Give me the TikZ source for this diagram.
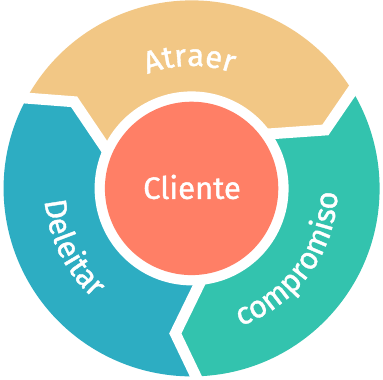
\documentclass[tikz,border=0pt]{standalone}
\usepackage{fontspec}
\setmainfont{Fira Sans}
\newfontfamily\wheelfam[FakeBold=1.2]{Fira Sans}
\usetikzlibrary{decorations.text,calc}
\definecolor{atraercol}{HTML}{F2C785}
\definecolor{deleitarcol}{HTML}{2DADC2}
\definecolor{comprocol}{HTML}{33C3AE}
\definecolor{clientecol}{HTML}{FF7F66}
\newcommand\wfont{\wheelfam\fontsize{31}{32}\selectfont}
\tikzset{
  gapline/.style={draw=white, line width=11pt},
  ringtext/.style={decorate, decoration={text along path, text align=center, text color=white, text={|\wfont|#1}}}
}
\begin{document}
\begin{tikzpicture}[x=1pt,y=1pt]
\useasboundingbox (0,0) rectangle (383,380);
\fill[white] (0,0) rectangle (383,380);
\begin{scope}[shift={(191.6,191.6)}]
  \coordinate (O) at (0,0);
  % boundary 1 (Atraer / Deleitar)
  \coordinate (b1i) at (154.3:97);
  \coordinate (b1e) at (143.6:146);
  \coordinate (b1o) at (151.3:188);
  % boundary 2 (Atraer / compromiso)
  \coordinate (b2i) at (34.3:97);
  \coordinate (b2e) at (23.6:146);
  \coordinate (b2o) at (31.3:188);
  % boundary 3 (compromiso / Deleitar)
  \coordinate (b3i) at (-85.7:97);
  \coordinate (b3e) at (-96.4:146);
  \coordinate (b3o) at (-88.7:188);
  % segments
  \fill[atraercol] (O) -- (b1i) -- (b1e) -- (b1o) arc[start angle=151.3, end angle=31.3, radius=188] -- (b2e) -- (b2i) -- cycle;
  \fill[deleitarcol] (O) -- (b1i) -- (b1e) -- (b1o) arc[start angle=151.3, end angle=271.3, radius=188] -- (b3e) -- (b3i) -- cycle;
  \fill[comprocol] (O) -- (b3i) -- (b3e) -- (b3o) arc[start angle=-88.7, end angle=31.3, radius=188] -- (b2e) -- (b2i) -- cycle;
  % white gaps
  \fill[white] (O) circle[radius=97];
  \draw[gapline] ($(b1e)!1.3!(b1i)$) -- (b1e) -- ($(b1e)!1.4!(b1o)$);
  \draw[gapline] ($(b2e)!1.3!(b2i)$) -- (b2e) -- ($(b2e)!1.4!(b2o)$);
  \draw[gapline] ($(b3e)!1.3!(b3i)$) -- (b3e) -- ($(b3e)!1.4!(b3o)$);
  % centre
  \fill[clientecol] (O) circle[radius=86.7];
  \node[text=white, font=\wfont, anchor=base, inner sep=0pt] (cl) at (0.4,-10.5) {Cliente};
  % ring labels
  \path[ringtext=Atraer] (151:122.5) arc[start angle=151, end angle=31, radius=122.5];
  \path[ringtext=Deleitar] (146.5:147.5) arc[start angle=146.5, end angle=266.5, radius=147.5];
  \path[ringtext=compromiso] (-96:146) arc[start angle=-96, end angle=24, radius=146];
\end{scope}
\end{tikzpicture}
\end{document}
